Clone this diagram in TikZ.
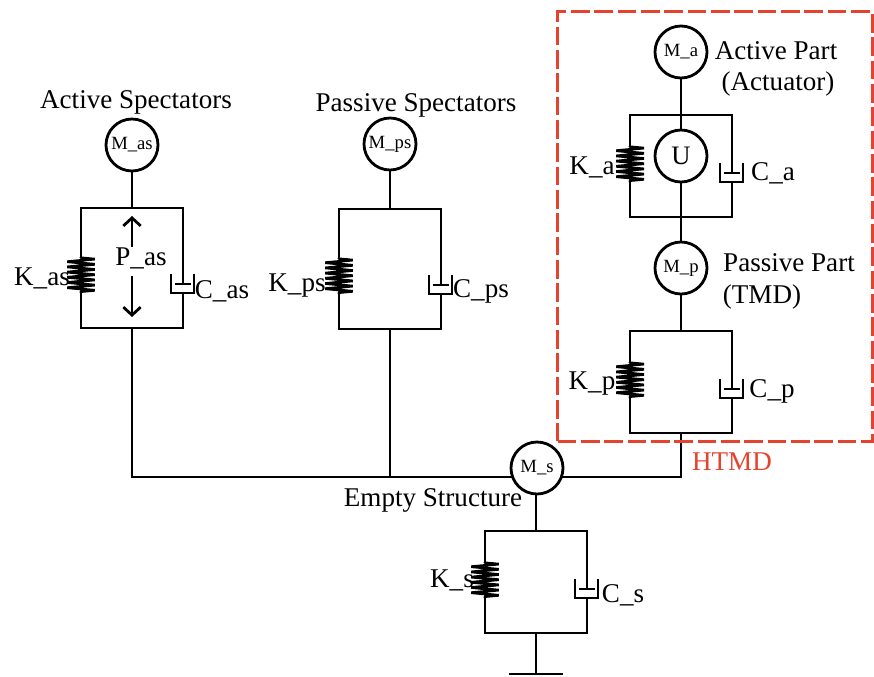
\documentclass[tikz,border=0pt]{standalone}
\usepackage{fontspec}
\setmainfont{Liberation Serif}
\usetikzlibrary{positioning,arrows.meta,decorations.pathmorphing}
\definecolor{htmdred}{HTML}{E5432D}
\tikzset{
    mass/.style={
           circle,
           draw=black, line width=2.1pt,
           minimum size=39pt,
           inner sep=0pt,
           font=\fontsize{14}{16}\selectfont
           },
    bigmass/.style={
           mass,
           font=\fontsize{20}{24}\selectfont
           },
    lbl/.style={
           inner sep=0pt,
           yshift=-1.5pt,
           font=\fontsize{20.3}{24}\selectfont
           },
    link/.style={
           line width=2.1pt,
           line cap=rect,
           line join=miter
           },
    spring/.style={
           line width=2pt,
           line join=bevel,
           decorate,
           decoration={zigzag, amplitude=10.4pt, segment length=3.9pt, pre length=0.6pt, post length=0.6pt}
           },
    kelvin/.pic={
           \coordinate (-bot) at (0,0);
           \coordinate (-top) at (0,-#1);
           \coordinate (-ktop) at (-51,-71);
           \coordinate (-kbot) at (-51,-35);
           \draw[link] (-kbot) -- (-51,0) -- (51,0) -- (51,-35);
           \draw[link] (-ktop) -- (-51,-#1) -- (51,-#1) -- (51,-44);
           \draw[link] (39,-53) -- (39,-35) -- (62,-35) -- (62,-53);
           \draw[link] (44,-44) -- (58,-44);
           \draw[spring] (-ktop) -- (-kbot);
           }
}
\begin{document}
\begin{tikzpicture}[x=0.75pt, y=-0.75pt, >={Straight Barb[length=6pt,width=13pt]}, on grid]
\useasboundingbox (0,0) rectangle (874,676);
%masses
   \node[mass] (Mas) at (132,145) {M\_as};
   \node[mass] (Mps) at (390,144) {M\_ps};
   \node[mass] (Ma) at (681,52) {M\_a};
   \node[bigmass] (U)[below=78pt of Ma] {U};
   \node[mass] (Mp)[below=84pt of U] {M\_p};
   \node[mass] (Ms) at (537,468) {M\_s};
%spring and damper units
   \pic (as) at (132,328) {kelvin=120};
   \pic (ps) at (390,329) {kelvin=120};
   \pic (a) at (681,217) {kelvin=102};
   \pic (p) at (681,433) {kelvin=102};
   \pic (s) at (536,633) {kelvin=102};
%connections
   \coordinate (busl) at (132,477);
   \coordinate (busr) at (681,477);
   \coordinate (gnd) at (536,674);
   \coordinate (gndl) at (510,674);
   \coordinate (gndr) at (562,674);
   \draw[link] (Mas) -- (as-top);
   \draw[link] (Mps) -- (ps-top);
   \draw[link] (Ma) -- (a-top) -- (U);
   \draw[link] (U) -- (a-bot) -- (Mp);
   \draw[link] (Mp) -- (p-top);
   \draw[link] (Ms.south -| s-top) -- (s-top);
   \draw[link] (as-bot) -- (busl) -- (Ms.200 |- busl);
   \draw[link] (Ms.-20 |- busr) -- (busr) -- (p-bot);
   \draw[link] (ps-bot) -- (ps-bot |- busl);
   \draw[link] (s-bot) -- (gnd);
   \draw[link] (gndl) -- (gndr);
%force arrows
   \node[lbl] (Pas) at (141,256) {P\_as};
   \coordinate (upa) at (132,246);
   \coordinate (upb) at (132,216);
   \coordinate (dna) at (132,277);
   \coordinate (dnb) at (132,317);
   \draw[link,->] (upa) -- (upb);
   \draw[link,->] (dna) -- (dnb);
%red box
   \node[draw=htmdred, line width=2.2pt, dash pattern=on 14pt off 3.5pt, minimum width=236pt, minimum height=322pt, inner sep=0pt] (htmdbox) at (715,226.5) {};
   \node[lbl, text=htmdred] (htmd) at (732,460) {HTMD};
%labels
   \node[lbl] (actspec) at (136,100) {Active Spectators};
   \node[lbl] (passpec) at (416,103) {Passive Spectators};
   \node[lbl] (actpart) at (776,49) {Active Part};
   \node[lbl] (actuator) at (778,82) {(Actuator)};
   \node[lbl] (paspart) at (789,261) {Passive Part};
   \node[lbl] (tmd) at (762,295) {(TMD)};
   \node[lbl] (empty) at (433,498) {Empty Structure};
   \node[lbl] (Kas) at (42,276) {K\_as};
   \node[lbl] (Cas) at (222,289) {C\_as};
   \node[lbl] (Kps) at (297,284) {K\_ps};
   \node[lbl] (Cps) at (481,289) {C\_ps};
   \node[lbl] (Ka) at (592,165) {K\_a};
   \node[lbl] (Ca) at (773,171) {C\_a};
   \node[lbl] (Kp) at (592,382) {K\_p};
   \node[lbl] (Cp) at (772,389) {C\_p};
   \node[lbl] (Ks) at (452,578) {K\_s};
   \node[lbl] (Cs) at (623,593) {C\_s};
\end{tikzpicture}
\end{document}
